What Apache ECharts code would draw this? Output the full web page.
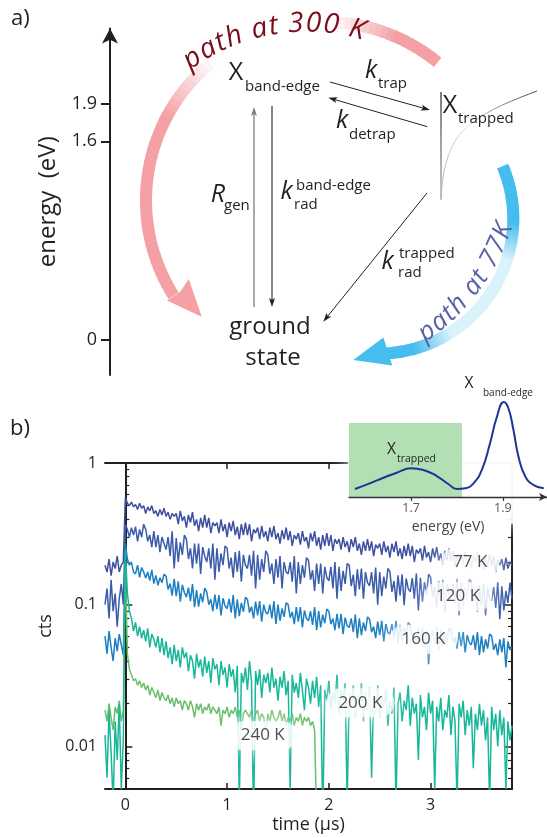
<!DOCTYPE html>
<html>
<head>
<meta charset="utf-8">
<script src="https://cdn.jsdelivr.net/npm/echarts@6/dist/echarts.min.js"></script>
<style>
  html, body { margin: 0; padding: 0; background: #fff; }
  #chart { width: 547px; height: 838px; }
</style>
</head>
<body>
<div id="chart"></div>
<script>
// time axis (µs) shared by every decay trace
const times = [-0.2,-0.18,-0.16,-0.14,-0.12,-0.1,-0.08,-0.06,-0.04,-0.02,
  0,0.02,0.04,0.06,0.08,0.1,0.12,0.14,0.16,0.18,0.2,0.22,0.24,0.26,0.28,0.3,0.32,0.34,0.36,0.38,
  0.4,0.42,0.44,0.46,0.48,0.5,0.52,0.54,0.56,0.58,0.6,0.62,0.64,0.66,0.68,0.7,0.72,0.74,0.76,0.78,
  0.8,0.82,0.84,0.86,0.88,0.9,0.92,0.94,0.96,0.98,1,1.02,1.04,1.06,1.08,1.1,1.12,1.14,1.16,1.18,
  1.2,1.22,1.24,1.26,1.28,1.3,1.32,1.34,1.36,1.38,1.4,1.42,1.44,1.46,1.48,1.5,1.52,1.54,1.56,1.58,
  1.6,1.62,1.64,1.66,1.68,1.7,1.72,1.74,1.76,1.78,1.8,1.82,1.84,1.86,1.88,1.9,1.92,1.94,1.96,1.98,
  2,2.02,2.04,2.06,2.08,2.1,2.12,2.14,2.16,2.18,2.2,2.22,2.24,2.26,2.28,2.3,2.32,2.34,2.36,2.38,
  2.4,2.42,2.44,2.46,2.48,2.5,2.52,2.54,2.56,2.58,2.6,2.62,2.64,2.66,2.68,2.7,2.72,2.74,2.76,2.78,
  2.8,2.82,2.84,2.86,2.88,2.9,2.92,2.94,2.96,2.98,3,3.02,3.04,3.06,3.08,3.1,3.12,3.14,3.16,3.18,
  3.2,3.22,3.24,3.26,3.28,3.3,3.32,3.34,3.36,3.38,3.4,3.42,3.44,3.46,3.48,3.5,3.52,3.54,3.56,3.58,
  3.6,3.62,3.64,3.66,3.68,3.7,3.72,3.74,3.76,3.78,3.8]

// counts per temperature
const cts77 = [0.19,0.17,0.21,0.16,0.2,0.18,0.22,0.17,0.19,0.2,
  0.57,0.52,0.5,0.53,0.49,
  0.51,0.47,0.52,0.48,0.5, 0.44,0.49,0.46,0.5,0.44, 0.46,0.42,0.47,0.43,0.48, 0.42,0.45,0.4,0.44,0.42,
  0.44,0.37,0.46,0.39,0.42, 0.35,0.43,0.38,0.45,0.36, 0.4,0.33,0.41,0.35,0.43, 0.35,0.41,0.32,0.38,0.36,
  0.38,0.32,0.4,0.33,0.37, 0.3,0.38,0.33,0.39,0.31, 0.355,0.29,0.37,0.31,0.38, 0.31,0.37,0.28,0.34,0.32,
  0.35,0.29,0.36,0.3,0.33, 0.28,0.35,0.3,0.36,0.29, 0.32,0.27,0.335,0.29,0.35, 0.285,0.33,0.26,0.31,0.29,
  0.32,0.265,0.33,0.28,0.3, 0.25,0.32,0.28,0.33,0.26, 0.3,0.245,0.31,0.26,0.32, 0.26,0.31,0.24,0.29,0.27,
  0.29,0.245,0.3,0.255,0.28, 0.235,0.29,0.255,0.3,0.24, 0.27,0.225,0.28,0.24,0.29, 0.24,0.28,0.22,0.265,0.25,
  0.27,0.225,0.28,0.235,0.26, 0.215,0.27,0.235,0.28,0.22, 0.25,0.21,0.26,0.22,0.27, 0.22,0.26,0.2,0.245,0.23,
  0.25,0.205,0.26,0.215,0.235, 0.2,0.25,0.215,0.255,0.205, 0.23,0.19,0.24,0.205,0.25, 0.205,0.24,0.185,0.225,0.21,
  0.227,0.19,0.235,0.197,0.216, 0.18,0.225,0.197,0.234,0.187, 0.21,0.175,0.22,0.187,0.227, 0.187,0.22,0.17,0.205,0.19,
  0.21,0.175,0.215,0.18,0.2, 0.19]
const cts120 = [0.1,0.13,0.08,0.15,0.09,0.12,0.07,0.11,0.14,0.1,
  0.37,0.34,0.3,0.35,0.31,
  0.355,0.28,0.34,0.3,0.37, 0.34,0.28,0.31,0.255,0.33, 0.255,0.31,0.235,0.3,0.27, 0.245,0.3,0.22,0.33,0.18,
  0.295,0.2,0.275,0.225,0.31, 0.29,0.21,0.25,0.18,0.27, 0.195,0.27,0.165,0.255,0.22, 0.2,0.25,0.18,0.27,0.15,
  0.25,0.17,0.23,0.19,0.26, 0.25,0.18,0.215,0.155,0.235, 0.17,0.24,0.145,0.225,0.19, 0.18,0.225,0.16,0.24,0.13,
  0.225,0.15,0.21,0.17,0.24, 0.225,0.165,0.195,0.14,0.21, 0.155,0.22,0.13,0.2,0.17, 0.165,0.2,0.145,0.22,0.12,
  0.2,0.14,0.19,0.155,0.215, 0.205,0.15,0.175,0.125,0.195, 0.14,0.195,0.12,0.185,0.155, 0.147,0.185,0.13,0.2,0.11,
  0.185,0.125,0.173,0.14,0.195, 0.19,0.135,0.163,0.115,0.178, 0.128,0.18,0.11,0.17,0.143, 0.136,0.17,0.12,0.183,0.1,
  0.17,0.115,0.158,0.13,0.18, 0.171,0.123,0.147,0.105,0.161, 0.116,0.164,0.099,0.153,0.13, 0.123,0.154,0.11,0.166,0.091,
  0.155,0.105,0.144,0.118,0.164, 0.156,0.113,0.134,0.096,0.147, 0.106,0.15,0.09,0.14,0.119, 0.113,0.141,0.101,0.153,0.084,
  0.143,0.097,0.133,0.109,0.151, 0.145,0.105,0.125,0.089,0.137, 0.099,0.14,0.084,0.131,0.111, 0.107,0.133,0.095,0.144,0.079,
  0.135,0.091,0.125,0.103,0.143, 0.11]
const cts160 = [0.06,0.045,0.065,0.05,0.04,0.058,0.047,0.062,0.052,0.044,
  0.27,0.21,0.19,0.2,0.17,
  0.165,0.19,0.156,0.183,0.17, 0.154,0.17,0.148,0.176,0.141, 0.161,0.137,0.155,0.143,0.164, 0.159,0.128,0.141,0.116,0.152,
  0.115,0.146,0.105,0.138,0.122, 0.113,0.132,0.106,0.14,0.096, 0.127,0.097,0.12,0.104,0.131, 0.123,0.1,0.109,0.09,0.118,
  0.093,0.117,0.084,0.111,0.098, 0.094,0.11,0.088,0.117,0.08, 0.109,0.083,0.103,0.089,0.113, 0.109,0.088,0.097,0.08,0.105,
  0.084,0.106,0.076,0.1,0.088, 0.086,0.1,0.08,0.106,0.073, 0.1,0.077,0.094,0.082,0.103, 0.1,0.081,0.089,0.073,0.096,
  0.076,0.096,0.069,0.091,0.08, 0.077,0.09,0.072,0.096,0.066, 0.09,0.069,0.085,0.074,0.093, 0.09,0.073,0.08,0.066,0.086,
  0.068,0.086,0.062,0.081,0.071, 0.069,0.08,0.064,0.085,0.058, 0.08,0.061,0.075,0.065,0.082, 0.079,0.064,0.07,0.058,0.076,
  0.061,0.077,0.055,0.073,0.064, 0.062,0.073,0.058,0.077,0.053, 0.072,0.055,0.068,0.059,0.075, 0.072,0.059,0.064,0.053,0.069,
  0.055,0.07,0.05,0.066,0.038, 0.056,0.066,0.053,0.07,0.048, 0.066,0.051,0.063,0.054,0.068, 0.067,0.054,0.059,0.049,0.064,
  0.051,0.064,0.046,0.061,0.054, 0.052,0.061,0.048,0.064,0.044, 0.06,0.046,0.057,0.049,0.062, 0.06,0.048,0.053,0.044,0.057,
  0.046,0.058,0.036,0.055,0.048, 0.05]
const cts200 = [0.012,0.006,0.018,0.009,0.004,0.015,0.008,0.02,0.005,0.011,
  0.24,0.12,0.09,0.08,0.065,
  0.075,0.06,0.07,0.058,0.066, 0.055,0.068,0.05,0.062,0.057, 0.05,0.06,0.046,0.058,0.044, 0.055,0.042,0.05,0.038,0.052,
  0.04,0.048,0.036,0.05,0.042, 0.046,0.034,0.044,0.04,0.03, 0.045,0.036,0.041,0.031,0.043, 0.033,0.04,0.028,0.042,0.035,
  0.038,0.027,0.04,0.032,0.036, 0.026,0.038,0.031,0.035,0.024, 0.037,0.004,0.033,0.028,0.036, 0.025,0.04,0.029,0.003,0.034,
  0.027,0.035,0.022,0.032,0.028, 0.033,0.024,0.036,0.026,0.03, 0.021,0.031,0.026,0.034,0.023, 0.029,0.005,0.032,0.024,0.028,
  0.022,0.033,0.025,0.018,0.03, 0.026,0.02,0.029,0.022,0.031, 0.019,0.027,0.003,0.025,0.021, 0.029,0.018,0.024,0.02,0.032,
  0.017,0.025,0.021,0.028,0.004, 0.024,0.019,0.027,0.016,0.023, 0.02,0.028,0.015,0.024,0.018, 0.026,0.006,0.022,0.017,0.027,
  0.016,0.023,0.019,0.025,0.014, 0.021,0.017,0.026,0.004,0.02, 0.024,0.015,0.021,0.018,0.027, 0.014,0.022,0.017,0.02,0.008,
  0.023,0.016,0.019,0.013,0.024, 0.017,0.021,0.005,0.019,0.015, 0.022,0.013,0.018,0.016,0.023, 0.012,0.019,0.015,0.004,0.02,
  0.016,0.021,0.012,0.018,0.014, 0.019,0.007,0.017,0.013,0.02, 0.014,0.018,0.011,0.016,0.004, 0.019,0.013,0.017,0.01,0.018,
  0.012,0.016,0.005,0.015,0.011, 0.014]
const cts240 = [0.018,0.015,0.02,0.016,0.013,0.019,0.017,0.021,0.015,0.018,
  0.2,0.045,0.035,0.032,0.029,
  0.03,0.027,0.029,0.026,0.028, 0.025,0.027,0.023,0.026,0.024, 0.022,0.025,0.021,0.024,0.022, 0.021,0.023,0.02,0.022,0.019,
  0.022,0.02,0.021,0.018,0.021, 0.02,0.018,0.021,0.019,0.016, 0.02,0.018,0.02,0.017,0.019, 0.018,0.02,0.017,0.019,0.018,
  0.017,0.019,0.014,0.018,0.017, 0.019,0.016,0.018,0.017,0.019, 0.016,0.018,0.013,0.017,0.018, 0.017,0.016,0.018,0.015,0.017,
  0.018,0.015,0.017,0.016,0.012, 0.017,0.015,0.018,0.016,0.015, 0.016,0.018,0.015,0.017,0.014, 0.016,0.015,0.017,0.014,0.016,
  0.015,0.017,0.014,0.016,0.015, 0.016,0.014,0.015,0.013, 0.003]

const tempNames = ['77 K', '120 K', '160 K', '200 K', '240 K']
const tempColors = ['#3e509f', '#3a5caa', '#1c7fc2', '#17b798', '#6bbf6b']
const labelTimes = [3.39, 3.27, 2.93, 2.31, 1.35]
const labelCts = [0.2, 0.114, 0.0567, 0.0203, 0.0119]

const timeTicks = [0, 1, 2, 3]
const logMajor = [0.01, 0.1, 1]
const logMinor = [0.006, 0.007, 0.008, 0.009, 0.02, 0.03, 0.04, 0.05, 0.06, 0.07, 0.08, 0.09,
  0.2, 0.3, 0.4, 0.5, 0.6, 0.7, 0.8, 0.9]

// inset PL spectrum
const specEnergy = [1.578,1.61,1.64,1.669,1.7,1.727,1.756,1.781,1.8,1.818,1.836,1.854,1.872,1.887,1.902,1.912,1.923,1.934,1.949,1.967,1.989]
const specInt = [0.084,0.144,0.203,0.256,0.302,0.284,0.221,0.137,0.084,0.092,0.144,0.284,0.565,0.845,1.0,0.934,0.705,0.424,0.214,0.126,0.092]
const energyTicks = [1.7, 1.9]
const trapWindow = [1.565, 1.811]

// energy levels of panel a
const levelTicks = [0, 1.6, 1.9]

const FONT = '"Open Sans", "Noto Sans", sans-serif'
const INK = '#231f20'

const chart = echarts.init(document.getElementById('chart'))
const g = []

function txt(x, y, s, size, o) {
  o = o || {}
  g.push({
    type: 'text', x: x, y: y, z: 20, rotation: o.rot || 0,
    style: {
      text: s,
      font: (o.italic ? 'italic ' : '') + size + 'px ' + FONT,
      fill: o.color || INK,
      align: o.align || 'left', verticalAlign: 'middle',
      textAlign: o.align || 'left', textVerticalAlign: 'middle'
    }
  })
}

function arrow(x1, y1, x2, y2, color, lw, hl, hw) {
  const dx = x2 - x1, dy = y2 - y1, L = Math.sqrt(dx * dx + dy * dy)
  const ux = dx / L, uy = dy / L, nx = -uy, ny = ux
  const bx = x2 - ux * hl, by = y2 - uy * hl
  g.push({ type: 'line', z: 15, shape: { x1: x1, y1: y1, x2: bx + ux * 2, y2: by + uy * 2 },
    style: { stroke: color, lineWidth: lw } })
  g.push({ type: 'polygon', z: 15, shape: { points: [[x2, y2], [bx + nx * hw, by + ny * hw],
    [bx + ux * 2, by + uy * 2], [bx - nx * hw, by - ny * hw]] }, style: { fill: color } })
}

function mix(c, w) {
  const r = parseInt(c.slice(1, 3), 16), gg = parseInt(c.slice(3, 5), 16), b = parseInt(c.slice(5, 7), 16)
  const f = v => Math.round(255 + (v - 255) * w)
  return 'rgb(' + f(r) + ',' + f(gg) + ',' + f(b) + ')'
}

// thick fading band drawn as short arc pieces
function band(cx, cy, r, a0, a1, color, weight) {
  const n = 80
  for (let i = 0; i < n; i++) {
    const s = a0 + (a1 - a0) * i / n, e = a0 + (a1 - a0) * (i + 1) / n
    const m = (s + e) / 2
    g.push({ type: 'arc', z: 5,
      shape: { cx: cx, cy: cy, r: r, startAngle: (s - 0.3) * Math.PI / 180, endAngle: (e + 0.3) * Math.PI / 180, clockwise: true },
      style: { stroke: mix(color, weight(m)), lineWidth: 12, fill: null } })
  }
}

function arcText(str, cx, cy, r, a0, a1, size, color) {
  const font = 'italic ' + size + 'px ' + FONT
  const ctx = document.createElement('canvas').getContext('2d')
  ctx.font = font
  const chars = Array.from(str)
  const cs = []
  let acc = 0
  chars.forEach(c => { const w = ctx.measureText(c).width; cs.push(acc + w / 2); acc += w })
  const span = cs[cs.length - 1] - cs[0]
  chars.forEach((c, i) => {
    if (c === ' ') return
    const th = (a0 + (a1 - a0) * (cs[i] - cs[0]) / span) * Math.PI / 180
    const rot = a1 > a0 ? -(th + Math.PI / 2) : (Math.PI / 2 - th)
    g.push({ type: 'text', x: cx + r * Math.cos(th), y: cy + r * Math.sin(th), rotation: rot, z: 22,
      style: { text: c, font: font, fill: color, align: 'center', verticalAlign: 'middle',
        textAlign: 'center', textVerticalAlign: 'middle' } })
  })
}

function ramp(a, b, t) { return Math.max(0, Math.min(1, (t - a) / (b - a))) }

// path at 300 K (pink)
band(324.5, 200.4, 178.5, -212, -51, '#f4a0a4', th => {
  if (th < -100) return 1 - ramp(-152, -128, th)
  return ramp(-88, -66, th)
})
g.push({ type: 'polygon', z: 6, shape: { points: [[201.7, 316.7], [167, 300.5], [180, 292], [188.8, 279]] },
  style: { fill: '#f4a0a4' } })
arcText('path at 300 K', 306.5, 226.6, 203, -124.3, -75.6, 28, '#7b0d1a')

// path at 77 K (blue)
band(378.3, 218.6, 135, -22.6, 87, '#45bdee', th => {
  if (th < 30) return 1 - 0.8 * ramp(2, 18, th)
  return 0.2 + 0.8 * ramp(58, 75, th)
})
g.push({ type: 'polygon', z: 6, shape: { points: [[353.3, 360], [383.3, 337.5], [388, 351.7], [392.2, 365.5]] },
  style: { fill: '#45bdee' } })
arcText('path at 77K', 296.7, 154.9, 220, 53.7, 20.2, 26, '#5a62a6')

// states and rates
txt(236, 73, 'X', 25, { align: 'center' })
txt(245, 87, 'band-edge', 15)
txt(450, 106, 'X', 25, { align: 'center' })
txt(458, 119, 'trapped', 15)
txt(270, 327, 'ground', 24, { align: 'center' })
txt(273, 358, 'state', 24, { align: 'center' })
txt(371, 71, 'k', 25, { italic: true, align: 'center' })
txt(378, 84, 'trap', 15)
txt(342, 121, 'k', 25, { italic: true, align: 'center' })
txt(349, 135, 'detrap', 15)
txt(218, 195, 'R', 25, { italic: true, align: 'center' })
txt(224, 206, 'gen', 15)
txt(286.5, 192, 'k', 25, { italic: true, align: 'center' })
txt(296, 186, 'band-edge', 15)
txt(294, 205, 'rad', 15)
txt(387.5, 262, 'k', 25, { italic: true, align: 'center' })
txt(399, 254, 'trapped', 15)
txt(398, 273, 'rad', 15)

arrow(330, 82, 430, 110, INK, 1, 9, 3)
arrow(427.3, 126.7, 328.3, 97.7, INK, 1, 9, 3)
arrow(254, 307, 254, 107, '#7f7f7f', 1.3, 9, 3)
arrow(272, 106, 272, 307, INK, 1.1, 9, 3)
arrow(427, 193, 323.3, 321.7, INK, 1, 9, 3)

g.push({ type: 'line', z: 15, shape: { x1: 441, y1: 92, x2: 441, y2: 200 },
  style: { lineWidth: 1.2, stroke: new echarts.graphic.LinearGradient(0, 0, 0, 1, [
    { offset: 0, color: '#222' }, { offset: 1, color: '#aaa' }]) } })
g.push({ type: 'polyline', z: 15, shape: { smooth: 0.4, points: [[441, 198], [443, 178], [447, 160], [453, 145],
  [461, 133], [472, 123], [487, 113], [507, 103], [537, 91]] },
  style: { fill: null, lineWidth: 1, stroke: new echarts.graphic.LinearGradient(0, 1, 1, 0, [
    { offset: 0, color: '#aaa' }, { offset: 0.5, color: '#ddd' }, { offset: 1, color: '#333' }]) } })

// panel letters
txt(11, 19, 'a)', 22)
txt(10, 429, 'b)', 22)

// white veil behind the inset
g.push({ type: 'rect', z: 1, shape: { x: 348, y: 372, width: 210, height: 152, r: 20 },
  style: { fill: 'rgba(255,255,255,0.82)', shadowBlur: 18, shadowColor: 'rgba(255,255,255,1)' } })

// inset labels
txt(391.5, 450, 'X', 15.5, { align: 'center' })
txt(397, 459, 'trapped', 10.5)
txt(469, 384, 'X', 15.5, { align: 'center' })
txt(483, 393, 'band-edge', 10)

const traces = [cts77, cts120, cts160, cts240, cts200]
const traceIdx = [0, 1, 2, 4, 3]

const axisText = { color: INK, fontFamily: FONT }

const option = {
  animation: false,
  textStyle: { fontFamily: FONT },
  grid: [
    { left: 110, top: 28.5, width: 10, bottom: 463 },
    { left: 105, right: 35, top: 463, bottom: 49 },
    { left: 349, right: 0, top: 402, bottom: 341 }
  ],
  xAxis: [
    { gridIndex: 0, type: 'value', show: false, min: 0, max: 1 },
    {
      gridIndex: 1, type: 'value', min: -0.2, max: 3.8, position: 'bottom',
      axisLine: { lineStyle: { color: INK, width: 2 } },
      axisTick: { inside: true, length: 6, customValues: timeTicks, lineStyle: { color: INK, width: 1.5 } },
      axisLabel: Object.assign({ customValues: timeTicks, fontSize: 16, margin: 8 }, axisText),
      splitLine: { show: false },
      name: 'time (µs)', nameLocation: 'middle', nameGap: 27,
      nameTextStyle: { fontSize: 18, color: INK, fontFamily: FONT }
    },
    {
      gridIndex: 1, type: 'value', min: -0.2, max: 3.8, position: 'top',
      axisLine: { lineStyle: { color: INK, width: 2 } },
      axisTick: { inside: true, length: 6, customValues: timeTicks, lineStyle: { color: INK, width: 1.5 } },
      axisLabel: { show: false }, splitLine: { show: false }
    },
    {
      gridIndex: 2, type: 'value', min: 1.565, max: 1.996, z: 5,
      axisLine: { symbol: ['none', 'arrow'], symbolSize: [6, 8], lineStyle: { color: '#333', width: 1.3 } },
      axisTick: { customValues: energyTicks, length: 4, lineStyle: { color: '#333', width: 1.2 } },
      axisLabel: { customValues: energyTicks, fontSize: 12.5, color: '#555', margin: 5, fontFamily: FONT,
        formatter: v => v.toFixed(1) },
      splitLine: { show: false },
      name: 'energy (eV)', nameLocation: 'middle', nameGap: 23,
      nameTextStyle: { fontSize: 14, color: '#444', fontFamily: FONT }
    }
  ],
  yAxis: [
    {
      gridIndex: 0, type: 'value', min: -0.282, max: 2.508,
      axisLine: { symbol: ['none', 'arrow'], symbolSize: [12, 15], lineStyle: { color: INK, width: 2 } },
      axisTick: { customValues: levelTicks, length: 9, lineStyle: { color: INK, width: 2 } },
      axisLabel: Object.assign({ customValues: levelTicks, fontSize: 18, margin: 13,
        formatter: v => v === 0 ? '0' : v.toFixed(1) }, axisText),
      splitLine: { show: false },
      name: 'energy  (eV)', nameLocation: 'middle', nameGap: 50,
      nameTextStyle: { fontSize: 24, color: INK, fontFamily: FONT }
    },
    {
      gridIndex: 1, type: 'log', logBase: 10, min: 0.005, max: 1, position: 'left',
      axisLine: { lineStyle: { color: INK, width: 2 } },
      axisTick: { inside: true, length: 7, customValues: logMajor, lineStyle: { color: INK, width: 1.5 } },
      axisLabel: Object.assign({ customValues: logMajor, fontSize: 16, margin: 8, formatter: v => String(v) }, axisText),
      splitLine: { show: false },
      name: 'cts', nameLocation: 'middle', nameGap: 42,
      nameTextStyle: { fontSize: 18, color: INK, fontFamily: FONT }
    },
    {
      gridIndex: 1, type: 'log', logBase: 10, min: 0.005, max: 1, position: 'left',
      axisLine: { show: false },
      axisTick: { inside: true, length: 4, customValues: logMinor, lineStyle: { color: INK, width: 1.2 } },
      axisLabel: { show: false }, splitLine: { show: false }
    },
    {
      gridIndex: 1, type: 'log', logBase: 10, min: 0.005, max: 1, position: 'right',
      axisLine: { lineStyle: { color: INK, width: 2 } },
      axisTick: { inside: true, length: 7, customValues: logMajor, lineStyle: { color: INK, width: 1.5 } },
      axisLabel: { show: false }, splitLine: { show: false }
    },
    {
      gridIndex: 1, type: 'log', logBase: 10, min: 0.005, max: 1, position: 'right',
      axisLine: { show: false },
      axisTick: { inside: true, length: 4, customValues: logMinor, lineStyle: { color: INK, width: 1.2 } },
      axisLabel: { show: false }, splitLine: { show: false }
    },
    { gridIndex: 2, type: 'value', min: 0, max: 1, show: false }
  ],
  series: traces.map((ys, k) => ({
    type: 'line',
    name: tempNames[traceIdx[k]],
    xAxisIndex: 1, yAxisIndex: 1,
    data: ys.map((v, i) => [times[i], v]),
    symbol: 'none',
    lineStyle: { color: tempColors[traceIdx[k]], width: 1.5 },
    z: 2
  })).concat([
    {
      type: 'scatter',
      xAxisIndex: 1, yAxisIndex: 1,
      data: tempNames.map((n, i) => ({ name: n, value: [labelTimes[i], labelCts[i]] })),
      symbolSize: 1,
      itemStyle: { color: 'rgba(0,0,0,0)' },
      z: 6,
      label: {
        show: true, position: 'inside', formatter: '{b}',
        fontSize: 17, color: INK, fontFamily: FONT,
        backgroundColor: 'rgba(255,255,255,0.95)', padding: [6, 12], borderRadius: 18,
        shadowBlur: 18, shadowColor: 'rgba(255,255,255,1)'
      }
    },
    {
      type: 'line',
      xAxisIndex: 3, yAxisIndex: 5,
      data: specEnergy.map((e, i) => [e, specInt[i]]),
      smooth: true,
      symbol: 'none',
      lineStyle: { color: '#1f3593', width: 2 },
      z: 4,
      markArea: {
        silent: true,
        itemStyle: { color: '#b3dfb5' },
        data: [[{ xAxis: trapWindow[0], yAxis: 0 }, { xAxis: trapWindow[1], yAxis: 0.78 }]]
      }
    }
  ]),
  graphic: g
}

chart.setOption(option)
</script>
</body>
</html>
